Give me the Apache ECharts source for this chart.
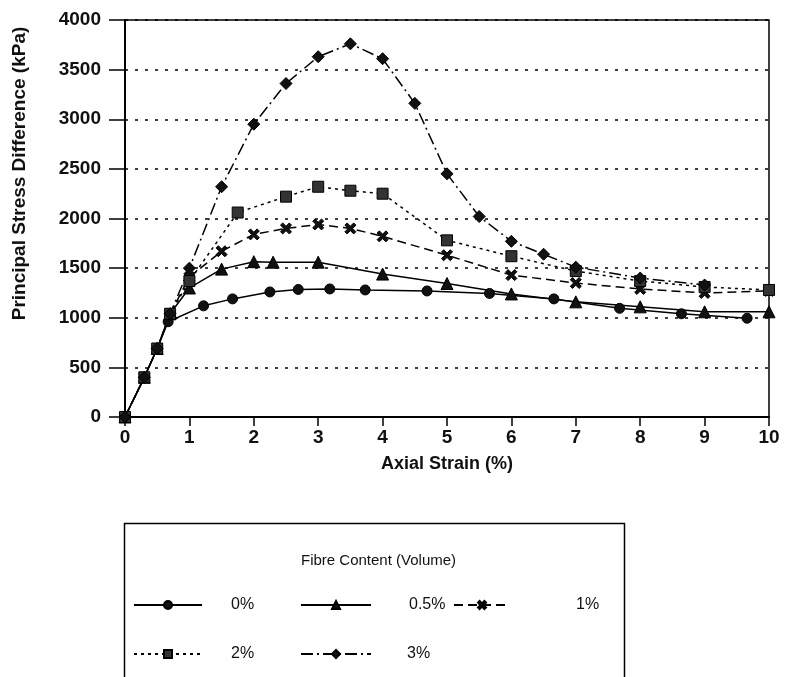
<!DOCTYPE html>
<html>
<head>
<meta charset="utf-8">
<script src="https://cdn.jsdelivr.net/npm/echarts@6/dist/echarts.min.js"></script>
<style>
html, body { margin: 0; padding: 0; background: #fff; }
#chart { width: 789px; height: 677px; }
</style>
</head>
<body>
<div id="chart"></div>
<script>
// values (axial strain %, stress kPa)
const x0 = [0, 0.3, 0.5, 0.67, 1.22, 1.67, 2.25, 2.69, 3.18, 3.73, 4.69, 5.66, 6.66, 7.68, 8.64, 9.66];
const y0 = [0, 400, 690, 960, 1120, 1190, 1260, 1285, 1290, 1280, 1270, 1245, 1190, 1095, 1040, 995];

const x05 = [0, 0.3, 0.5, 0.7, 1.0, 1.5, 2.0, 2.3, 3.0, 4.0, 5.0, 6.0, 7.0, 8.0, 9.0, 10.0];
const y05 = [0, 400, 690, 1040, 1300, 1490, 1565, 1560, 1560, 1440, 1345, 1240, 1160, 1110, 1060, 1060];

const x1 = [0, 0.3, 0.5, 0.7, 1.0, 1.5, 2.0, 2.5, 3.0, 3.5, 4.0, 5.0, 6.0, 7.0, 8.0, 9.0, 10.0];
const y1 = [0, 400, 690, 1040, 1410, 1670, 1840, 1900, 1940, 1900, 1820, 1630, 1430, 1350, 1290, 1250, 1270];

const x2 = [0, 0.3, 0.5, 0.7, 1.0, 1.75, 2.5, 3.0, 3.5, 4.0, 5.0, 6.0, 7.0, 8.0, 9.0, 10.0];
const y2 = [0, 400, 690, 1040, 1370, 2060, 2220, 2320, 2280, 2250, 1780, 1620, 1470, 1370, 1310, 1280];

const x3 = [0, 0.3, 0.5, 0.7, 1.0, 1.5, 2.0, 2.5, 3.0, 3.5, 4.0, 4.5, 5.0, 5.5, 6.0, 6.5, 7.0, 8.0, 9.0];
const y3 = [0, 400, 690, 1040, 1500, 2320, 2950, 3360, 3630, 3760, 3610, 3160, 2450, 2020, 1770, 1640, 1510, 1400, 1330];

const seriesNames = ['0%', '0.5%', '1%', '2%', '3%'];
const yTicks = [0, 500, 1000, 1500, 2000, 2500, 3000, 3500, 4000];
const xTicks = [0, 1, 2, 3, 4, 5, 6, 7, 8, 9, 10];

const crossPath = 'path://M0,2 L2,0 L5,3 L8,0 L10,2 L7,5 L10,8 L8,10 L5,7 L2,10 L0,8 L3,5 Z';

function pairs(xs, ys) {
    let out = [];
    for (let i = 0; i < xs.length; i++) out.push([xs[i], ys[i]]);
    return out;
}

let chart = echarts.init(document.getElementById('chart'));

const font = 'Liberation Sans, Arial, sans-serif';

function makeSeries(name, xs, ys, symbol, size, dash, color) {
    return {
        name: name,
        type: 'line',
        data: pairs(xs, ys),
        symbol: symbol,
        symbolSize: size,
        showAllSymbol: true,
        itemStyle: { color: color, borderColor: '#000', borderWidth: 1 },
        lineStyle: { color: '#000', width: 1.5, type: dash },
        z: 3
    };
}

function legendFor(name, left, top, width, pad) {
    return {
        data: [name],
        left: left,
        top: top,
        itemWidth: width,
        itemHeight: 10,
        padding: 0,
        textStyle: { fontFamily: font, fontSize: 16, color: '#111', padding: [0, 0, 0, pad] },
        selectedMode: false
    };
}

let option = {
    backgroundColor: '#ffffff',
    animation: false,
    textStyle: { fontFamily: font },
    title: {
        text: 'Fibre Content (Volume)',
        left: 296,
        top: 548,
        textStyle: { fontFamily: font, fontSize: 15, fontWeight: 'normal', color: '#111' }
    },
    graphic: [{
        type: 'rect',
        left: 122,
        top: 521,
        shape: { width: 500, height: 170 },
        style: { fill: 'none', stroke: '#000', lineWidth: 1.5 }
    }],
    legend: [
        legendFor('0%', 133, 597, 68, 24),
        legendFor('0.5%', 300, 597, 70, 33),
        legendFor('1%', 453, 597, 56, 61),
        legendFor('2%', 133, 646, 68, 24),
        legendFor('3%', 300, 646, 70, 31)
    ],
    grid: {
        left: 125,
        right: 20,
        top: 20,
        bottom: 260,
        show: true,
        borderColor: '#000',
        borderWidth: 1.5
    },
    xAxis: {
        type: 'value',
        min: xTicks[0],
        max: xTicks[xTicks.length - 1],
        interval: 1,
        name: 'Axial Strain (%)',
        nameLocation: 'middle',
        nameGap: 38,
        nameTextStyle: { fontFamily: font, fontSize: 18, fontWeight: 'bold', color: '#111' },
        axisLine: { lineStyle: { color: '#000', width: 2 } },
        axisTick: { inside: false, length: 9, lineStyle: { color: '#000', width: 1.5 } },
        axisLabel: { fontFamily: font, fontSize: 19, fontWeight: 'bold', color: '#111', margin: 11 },
        splitLine: { show: false }
    },
    yAxis: {
        type: 'value',
        min: yTicks[0],
        max: yTicks[yTicks.length - 1],
        interval: 500,
        name: 'Principal Stress Difference (kPa)',
        nameLocation: 'middle',
        nameGap: 96,
        nameTextStyle: { fontFamily: font, fontSize: 19, fontWeight: 'bold', color: '#111', padding: [0, 0, 0, 90] },
        axisLine: { show: true, lineStyle: { color: '#000', width: 2 } },
        axisTick: { show: true, inside: false, length: 16, lineStyle: { color: '#000', width: 1.5 } },
        axisLabel: {
            fontFamily: font, fontSize: 19, fontWeight: 'bold', color: '#111', margin: 24,
            formatter: v => String(v)
        },
        splitLine: { show: true, lineStyle: { color: '#000', width: 1.5, type: [3, 7] } }
    },
    series: [
        makeSeries(seriesNames[0], x0, y0, 'circle', 10, 'solid', '#111'),
        makeSeries(seriesNames[1], x05, y05, 'triangle', 12, 'solid', '#111'),
        makeSeries(seriesNames[2], x1, y1, crossPath, 11, [9, 5], '#111'),
        makeSeries(seriesNames[3], x2, y2, 'rect', 11, [3, 4], '#333'),
        makeSeries(seriesNames[4], x3, y3, 'diamond', 12, [12, 4, 2, 4], '#111')
    ]
};

chart.setOption(option);
</script>
</body>
</html>
